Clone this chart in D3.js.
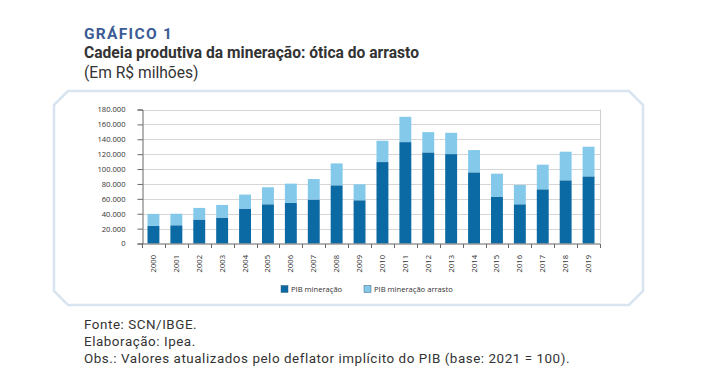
<!DOCTYPE html>
<html><head><meta charset="utf-8">
<script src="https://cdn.jsdelivr.net/npm/d3@7"></script>
<style>
html,body{margin:0;padding:0;background:#fff;}
svg{display:block;}
</style></head>
<body>
<svg id="c" width="713" height="382"></svg>
<script>
const years = ["2000","2001","2002","2003","2004","2005","2006","2007","2008","2009","2010","2011","2012","2013","2014","2015","2016","2017","2018","2019"];
const pibMineracao = [23600,24500,32200,34800,46900,52700,54500,59000,78200,58100,109400,136200,122400,120100,95600,62500,52700,72800,84900,90200];
const pibArrasto   = [16200,15500,15600,17000,18800,22800,25900,27600,29400,21400,28600,34000,27200,28600,29900,31300,25900,33100,38400,39800];
const yTicks = [0,20000,40000,60000,80000,100000,120000,140000,160000,180000];
const seriesNames = ["PIB mineração","PIB mineração arrasto"];
const colors = ["#0b6aa3","#84c9ea"];

const svg = d3.select("#c");
const fmt = d => d3.format(",")(d).replace(/,/g,".");

// Titles
svg.append("text").attr("x",84).attr("y",39).attr("font-family","Roboto").attr("font-weight","700")
  .attr("font-size",15.5).attr("letter-spacing","1.3px").attr("fill","#3b5b95").text("GRÁFICO 1");
svg.append("text").attr("x",84).attr("y",58).attr("font-family","Roboto").attr("font-weight","700")
  .attr("font-size",15.6).attr("fill","#333").text("Cadeia produtiva da mineração: ótica do arrasto");
svg.append("text").attr("x",84).attr("y",78).attr("font-family","Roboto")
  .attr("font-size",15.6).attr("fill","#333").text("(Em R$ milhões)");

// Frame with chamfered corners
const fx0=54, fx1=643, fy0=91, fy1=305, ch=14;
svg.append("path")
  .attr("d",`M${fx0+ch},${fy0} L${fx1-ch},${fy0} L${fx1},${fy0+ch} L${fx1},${fy1-ch} L${fx1-ch},${fy1} L${fx0+ch},${fy1} L${fx0},${fy1-ch} L${fx0},${fy0+ch} Z`)
  .attr("fill","#fff").attr("stroke","#d8e5f0").attr("stroke-width",2.5);

// Scales
const x0=142, x1=600, yTop=109.5, yBot=243.5;
const x = d3.scaleBand().domain(years).range([x0,x1]).paddingInner(0.48).paddingOuter(0.24);
const y = d3.scaleLinear().domain([0,180000]).range([yBot,yTop]);

const font = "'Open Sans', 'Noto Sans', sans-serif";

// Gridlines
svg.append("g").selectAll("line").data(yTicks.filter(d=>d>0)).join("line")
  .attr("x1",x0).attr("x2",x1).attr("y1",d=>Math.round(y(d))+0.5).attr("y2",d=>Math.round(y(d))+0.5)
  .attr("stroke","#d6d6d6").attr("stroke-width",1);
svg.append("line").attr("x1",x1+0.5).attr("x2",x1+0.5).attr("y1",y(180000)).attr("y2",yBot)
  .attr("stroke","#cfcfcf");

// Bars (stacked)
const stackData = years.map((yr,i)=>({year:yr, a:pibMineracao[i], b:pibArrasto[i]}));
const stack = d3.stack().keys(["a","b"])(stackData);
svg.append("g").selectAll("g").data(stack).join("g").attr("fill",(d,i)=>colors[i])
  .selectAll("rect").data(d=>d).join("rect")
  .attr("x",d=>x(d.data.year)).attr("width",x.bandwidth())
  .attr("y",d=>y(d[1])).attr("height",d=>y(d[0])-y(d[1]));

// Y axis
const yAxis = d3.axisLeft(y).tickValues(yTicks).tickFormat(fmt).tickSize(5).tickPadding(12);
const gy = svg.append("g").attr("transform",`translate(${x0+0.5},0)`).call(yAxis);
gy.select(".domain").attr("stroke","#666");
gy.selectAll(".tick line").attr("stroke","#666");
gy.selectAll("text").attr("font-family",font).attr("font-size",7.6).attr("fill","#333");

// X axis: ticks at band boundaries
const gx = svg.append("g").attr("transform",`translate(0,${yBot+0.5})`);
gx.append("line").attr("x1",x0).attr("x2",x1).attr("stroke","#666");
const step = x.step();
const bounds = years.map(yr=>x(yr)-x.paddingInner()*step/2).concat([x1]);
gx.selectAll("line.tk").data(bounds).join("line").attr("class","tk")
  .attr("x1",d=>Math.round(d)+0.5).attr("x2",d=>Math.round(d)+0.5).attr("y1",0).attr("y2",4).attr("stroke","#666");
gx.selectAll("text").data(years).join("text")
  .attr("transform",d=>`translate(${x(d)+x.bandwidth()/2+2.5},11) rotate(-90)`)
  .attr("text-anchor","end").attr("font-family",font).attr("font-size",7.6).attr("fill","#333").text(d=>d);

// Legend
const lg = svg.append("g");
const legendX = [281, 364];
seriesNames.forEach((n,i)=>{
  lg.append("rect").attr("x",legendX[i]).attr("y",285.5).attr("width",7).attr("height",7)
    .attr("fill",colors[i]).attr("stroke","#3a5f80").attr("stroke-width",0.5);
  lg.append("text").attr("x",legendX[i]+10).attr("y",292).attr("font-family",font).attr("font-size",7.6)
    .attr("fill","#333").text(n);
});

// Footer
const foot = ["Fonte: SCN/IBGE.","Elaboração: Ipea.","Obs.: Valores atualizados pelo deflator implícito do PIB (base: 2021 = 100)."];
svg.append("g").selectAll("text").data(foot).join("text")
  .attr("x",84).attr("y",(d,i)=>329+i*17).attr("font-family","Roboto").attr("font-size",13.4)
  .attr("letter-spacing","0.55px").attr("fill","#333").text(d=>d);
</script>
</body></html>
